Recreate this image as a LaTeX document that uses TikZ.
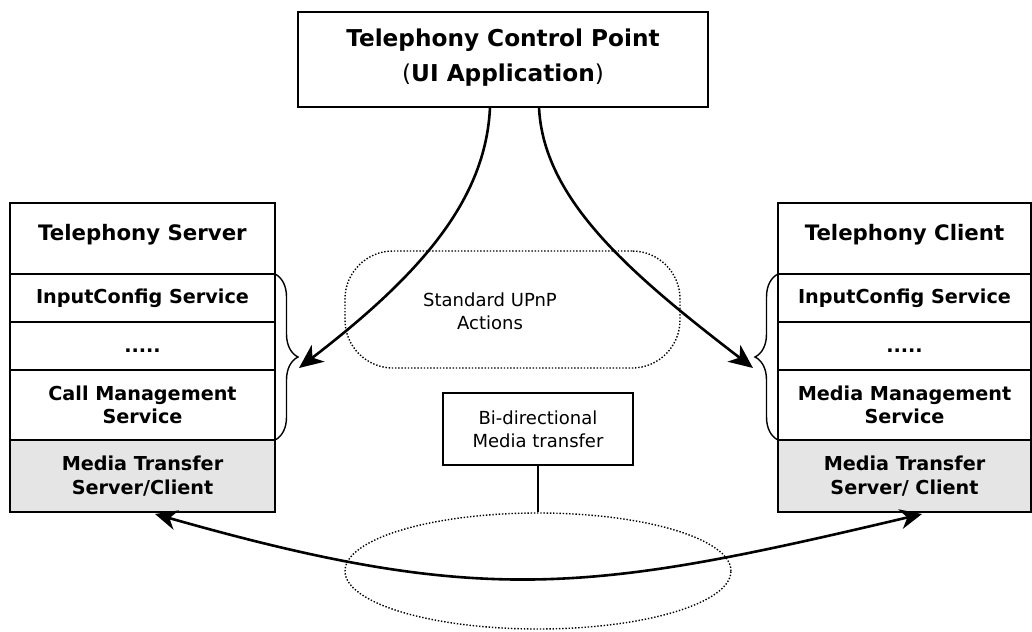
\documentclass[tikz,border=0pt]{standalone}
\usepackage{fontspec}
\setmainfont{DejaVu Sans}
\usetikzlibrary{arrows.meta,decorations.pathreplacing,shapes.geometric,calc}
\begin{document}
\begin{tikzpicture}[x=1pt,y=-1pt,
  box/.style={draw, line width=1.6pt, inner sep=0pt, outer sep=0pt, align=center},
  lrow/.style={box, minimum width=265pt},
  rrow/.style={box, minimum width=253pt},
  ttl/.style={font=\fontsize{21.3}{24}\selectfont\bfseries},
  svc/.style={font=\fontsize{19.2}{23.5}\selectfont\bfseries},
  plain/.style={font=\fontsize{18}{23}\selectfont},
  media/.style={fill=black!10},
  dotline/.style={dash pattern=on 1.4pt off 1.8pt, line width=1.4pt},
  bigarrow/.style={line width=2.6pt, -{Stealth[length=24pt,width=21pt,inset=7pt]}},
  bothways/.style={line width=2.6pt, {Stealth[length=22pt,width=20pt,inset=7pt]}-{Stealth[length=22pt,width=20pt,inset=7pt]}},
  bracestyle/.style={decorate, decoration={brace, amplitude=23pt}, line width=1.4pt}
]
\useasboundingbox (0,0) rectangle (1032,631);

% dotted regions
\node[draw, dotline, rounded corners=48pt, minimum width=335pt, minimum height=117pt, inner sep=0pt] (upnp) at (512.5,309.5) {};
\node[plain, align=center] (upnptxt) at (490,311) {Standard UPnP\\Actions};
\node[draw, dotline, ellipse, minimum width=386pt, minimum height=116pt, inner sep=0pt] (ell) at (538,571) {};

% top box
\node[box, minimum width=410pt, minimum height=95pt, font=\fontsize{23.2}{35}\selectfont, text depth=9pt] (tcp) at (503,59.5)
  {\textbf{Telephony Control Point}\\(\textbf{UI Application})};

% left stack
\node[lrow, ttl, minimum height=71pt, text depth=12pt] (ltitle) at (142.5,238.5) {Telephony Server};
\node[lrow, svc, minimum height=48pt] (lin) at (142.5,298) {InputConfig Service};
\node[lrow, svc, minimum height=48pt, text height=12pt, text depth=0pt] (ldots) at (142.5,346) {.....};
\node[lrow, svc, minimum height=70pt] (lcall) at (142.5,405) {Call Management\\Service};
\node[lrow, svc, media, minimum height=72pt] (lmedia) at (142.5,476) {Media Transfer\\Server/Client};

% right stack
\node[rrow, ttl, minimum height=71pt, text depth=12pt] (rtitle) at (904.5,238.5) {Telephony Client};
\node[rrow, svc, minimum height=48pt] (rin) at (904.5,298) {InputConfig Service};
\node[rrow, svc, minimum height=48pt, text height=12pt, text depth=0pt] (rdots) at (904.5,346) {.....};
\node[rrow, svc, minimum height=70pt] (rcall) at (904.5,405) {Media Management\\Service};
\node[rrow, svc, media, minimum height=72pt] (rmedia) at (904.5,476) {Media Transfer\\Server/ Client};

% braces
\draw[bracestyle] (lin.north east) -- (lcall.south east);
\draw[bracestyle] (rcall.south west) -- (rin.north west);

% bi-directional box
\node[box, plain, minimum width=190pt, minimum height=72pt] (bidir) at (538,429) {Bi-directional\\Media transfer};
\draw[line width=1.6pt] (bidir.south) -- (ell.north);

% arrows from control point
\coordinate (sL) at (490,107);
\coordinate (sR) at (539,107);
\coordinate (aL) at (299,368);
\coordinate (aR) at (753,368);
\draw[bigarrow] (sL) .. controls (486,200) and (420,275) .. (aL);
\draw[bigarrow] (sR) .. controls (543,200) and (632,275) .. (aR);

% media transfer arrow
\coordinate (bL) at (155,514);
\coordinate (bR) at (922,514);
\draw[bothways] (bL) .. controls (485,608) and (592,592) .. (bR);
\end{tikzpicture}
\end{document}
